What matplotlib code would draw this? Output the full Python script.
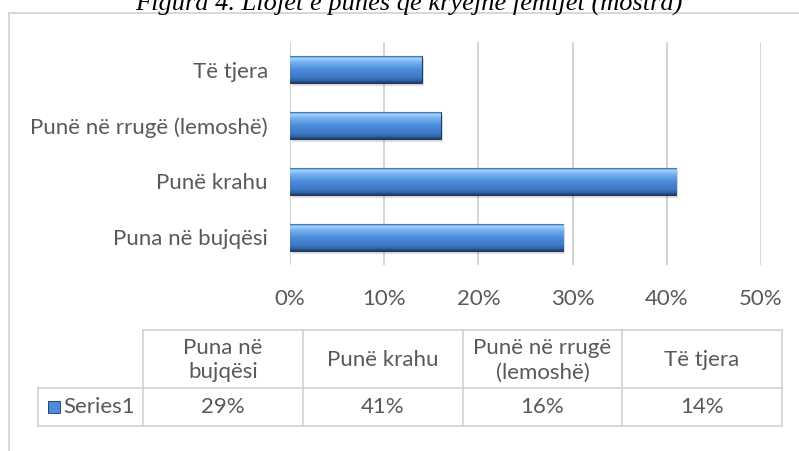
import numpy as np
import matplotlib.pyplot as plt
import matplotlib.transforms as mtransforms
from matplotlib.colors import LinearSegmentedColormap
from matplotlib.patches import Rectangle
from matplotlib.ticker import PercentFormatter

# data
categories = ['Puna në bujqësi', 'Punë krahu', 'Punë në rrugë (lemoshë)', 'Të tjera']
table_headers = ['Puna në\nbujqësi', 'Punë krahu', 'Punë në rrugë\n(lemoshë)', 'Të tjera']
values = [0.29, 0.41, 0.16, 0.14]
series_name = 'Series1'
title = 'Figura 4. Llojet e punës që kryejnë fëmijët (mostra)'

W, H = 799, 451
GRAY = '#595959'
LINE = '#d4d4d4'
FONT = 'Lato'
FS = 16

bar_cmap = LinearSegmentedColormap.from_list('bevel', [
    (0.0, '#3a6aa5'), (0.07, '#a3d3fc'), (0.22, '#76b2f1'), (0.5, '#4b8bd9'),
    (0.8, '#3d78c6'), (0.93, '#2d5d9c'), (1.0, '#1d3c66')])
grad = np.linspace(0, 1, 64).reshape(-1, 1)

fig = plt.figure(figsize=(W / 100, H / 100), dpi=100)

# main bar axes
ax = fig.add_axes([290 / W, 1 - 265 / H, (761 - 290) / W, (265 - 42) / H])
ypos = np.arange(len(categories))
bh = 0.48

shadow_tr = mtransforms.offset_copy(ax.transData, fig=fig, x=2, y=-3, units='dots')
ax.barh(ypos, values, height=bh, color='#000000', alpha=0.12, transform=shadow_tr, zorder=2)
bars = ax.barh(ypos, values, height=bh, color='#4b8bd9', edgecolor='#1f3b63', lw=0.8, zorder=3)
for b in bars:
    x0, y0 = b.get_x(), b.get_y()
    im = ax.imshow(grad, cmap=bar_cmap, aspect='auto', origin='upper',
                   extent=(x0, x0 + b.get_width(), y0, y0 + b.get_height()), zorder=3.5)
    im.set_clip_path(b)

ax.set_xlim(0, 0.5)
ax.set_ylim(-0.5, len(categories) - 0.5)
ax.set_xticks(np.arange(0, 0.51, 0.1))
ax.xaxis.set_major_formatter(PercentFormatter(1.0, decimals=0))
ax.set_yticks(ypos, categories)
ax.xaxis.grid(True, color=LINE, lw=1.4)
ax.set_axisbelow(True)
for s in ax.spines.values():
    s.set_visible(False)
ax.tick_params(axis='x', length=0, pad=17, labelsize=FS, labelcolor=GRAY)
ax.tick_params(axis='y', length=0, pad=16, labelsize=FS, labelcolor=GRAY)
for lab in ax.get_xticklabels() + ax.get_yticklabels():
    lab.set_fontfamily(FONT)

# overlay axes in pixel coordinates for frame, title and data table
tax = fig.add_axes([0, 0, 1, 1], zorder=-1)
tax.set_xlim(0, W)
tax.set_ylim(H, 0)
tax.axis('off')

tax.plot([9, W], [13, 13], color=LINE, lw=1.3)
tax.plot([9, 9], [13, H], color=LINE, lw=1.3)
tax.text(409, 10, title, ha='center', va='baseline', fontsize=19,
         family='Liberation Serif', style='italic', color='black')

col_edges = [38, 143, 303, 463, 622, 782]
row_edges = [330, 388, 426]
# header row (no top-left cell)
tax.plot([col_edges[1], col_edges[-1]], [row_edges[0]] * 2, color=LINE, lw=1.3)
tax.plot([col_edges[0], col_edges[-1]], [row_edges[1]] * 2, color=LINE, lw=1.3)
tax.plot([col_edges[0], col_edges[-1]], [row_edges[2]] * 2, color=LINE, lw=1.3)
tax.plot([col_edges[0], col_edges[0]], [row_edges[1], row_edges[2]], color=LINE, lw=1.3)
for x in col_edges[1:]:
    tax.plot([x, x], [row_edges[0], row_edges[2]], color=LINE, lw=1.3)

hy = (row_edges[0] + row_edges[1]) / 2
dy = (row_edges[1] + row_edges[2]) / 2
for i, (hdr, v) in enumerate(zip(table_headers, values)):
    cx = (col_edges[i + 1] + col_edges[i + 2]) / 2
    tax.text(cx, hy + 1, hdr, ha='center', va='center', fontsize=FS, family=FONT,
             color=GRAY, linespacing=1.3)
    tax.text(cx, dy, f'{v * 100:.0f}%', ha='center', va='center', fontsize=FS,
             family=FONT, color=GRAY)

# legend key + series name
key = Rectangle((48, dy - 6), 12, 12, facecolor='#4b8bd9', edgecolor='#1f3b63', lw=0.6)
tax.add_patch(key)
kim = tax.imshow(grad, cmap=bar_cmap, aspect='auto', origin='upper',
                 extent=(48, 60, dy + 6, dy - 6))
kim.set_clip_path(key)
tax.set_xlim(0, W)
tax.set_ylim(H, 0)
tax.text(63, dy, series_name, ha='left', va='center', fontsize=FS, family=FONT, color=GRAY)

fig.savefig('out.png', dpi=100)
